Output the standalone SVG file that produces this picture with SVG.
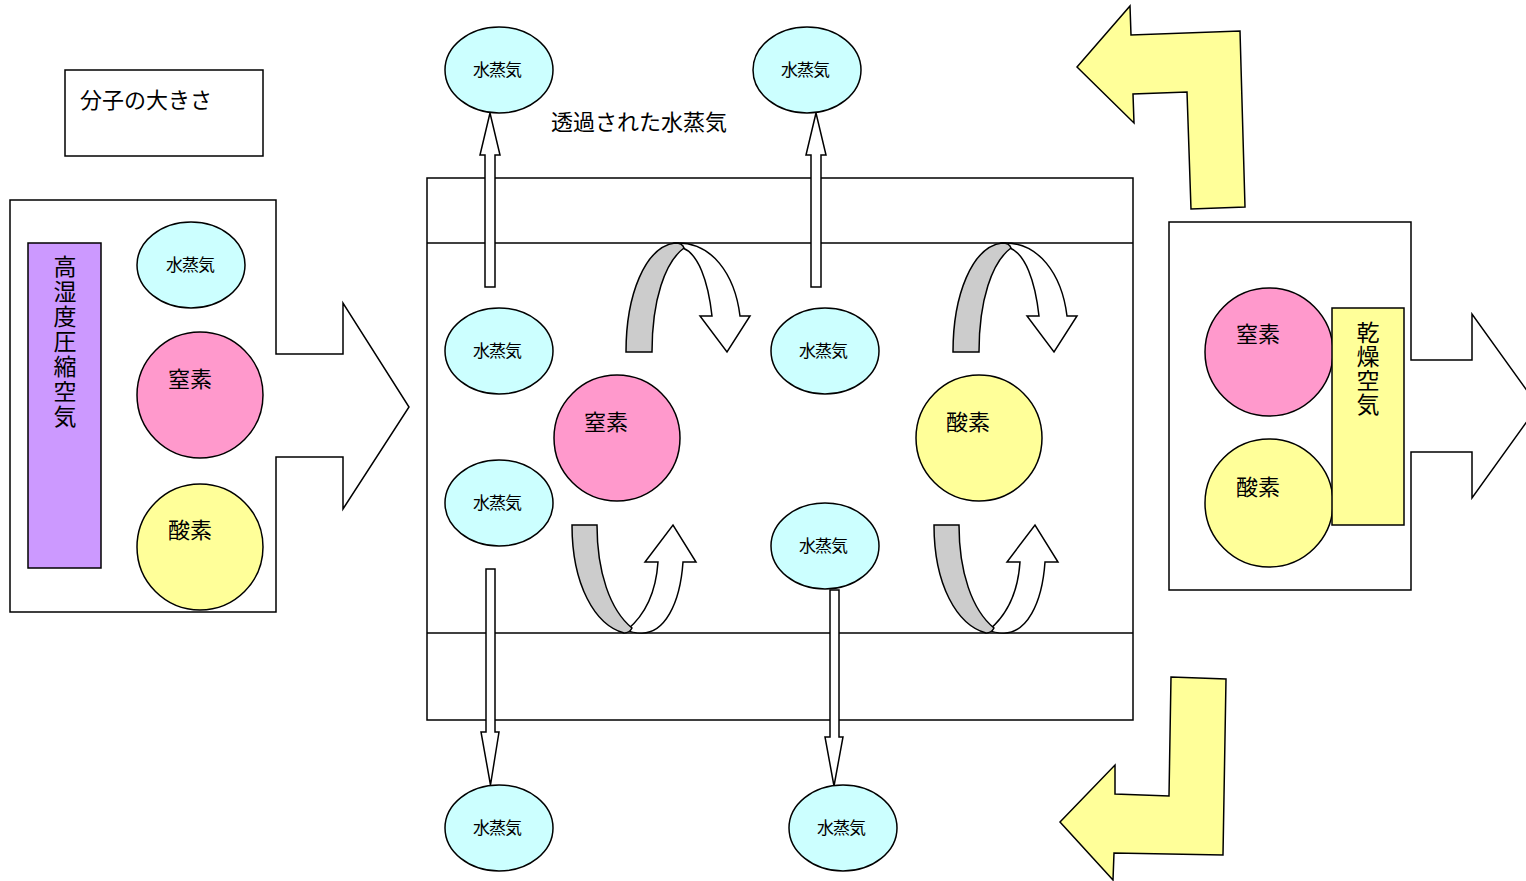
<svg xmlns="http://www.w3.org/2000/svg" width="1526" height="881" viewBox="0 0 1526 881">
<style>
.s{stroke:#000;stroke-width:1.5;stroke-linejoin:miter}
.w{fill:#fff}
.c{fill:#CCFFFF}
.p{fill:#FF99CC}
.y{fill:#FFFF99}
.g{fill:#CCCCCC}
.v{fill:#CC99FF}
text{font-family:"Noto Sans CJK JP","Noto Sans CJK SC",sans-serif;fill:#000}
.t17{font-size:17px;text-anchor:middle;letter-spacing:-1px}
.t22{font-size:22px}
.m{text-anchor:middle}
.vt{writing-mode:vertical-rl;font-size:23px;letter-spacing:2px}
</style>
<rect width="1526" height="881" fill="#fff"/>

<g id="legend">
<rect class="s w" x="65" y="70" width="198" height="86"/>
<text class="t22" x="80" y="108">分子の大きさ</text>
</g>

<g id="membrane">
<rect class="s w" x="427" y="178" width="706" height="542"/>
<line class="s" x1="427" y1="243" x2="1133" y2="243"/>
<line class="s" x1="427" y1="633" x2="1133" y2="633"/>
</g>

<g id="input">
<path class="s w" d="M10,200 L276,200 L276,354 L343,354 L343,303 L409,407 L343,509 L343,457 L276,457 L276,612 L10,612 Z"/>
<rect class="s v" x="28" y="243" width="73" height="325"/>
<text class="vt" x="65" y="255">高湿度圧縮空気</text>
<ellipse class="s c" cx="191" cy="265" rx="54" ry="43"/>
<text class="t17" x="190" y="271">水蒸気</text>
<circle class="s p" cx="200" cy="395" r="63"/>
<text class="t22 m" x="190" y="387">窒素</text>
<circle class="s y" cx="200" cy="547" r="63"/>
<text class="t22 m" x="190" y="538">酸素</text>
</g>

<g id="output">
<path class="s w" d="M1169,222 L1411,222 L1411,360 L1472,360 L1472,314 L1538,406 L1472,498 L1472,452 L1411,452 L1411,590 L1169,590 Z"/>
<circle class="s p" cx="1269" cy="352" r="64"/>
<text class="t22 m" x="1258" y="342">窒素</text>
<circle class="s y" cx="1269" cy="503" r="64"/>
<text class="t22 m" x="1258" y="495">酸素</text>
<rect class="s y" x="1332" y="308" width="72" height="217"/>
<text class="vt" x="1368" y="321" style="letter-spacing:1px">乾燥空気</text>
</g>

<g id="yellow-arrows">
<path class="s y" d="M1077,67 L1130,6 L1131,35 L1240,31 L1245,207 L1191,209 L1187,92 L1133,94 L1134,123 Z"/>
<path class="s y" d="M1171,677 L1226,679 L1223,855 L1114,853 L1113,880 L1060,822 L1115,765 L1115,794 L1169,796 Z"/>
</g>

<g id="connectors">
<polygon class="s w" points="485,287 495,287 495,155 500,155 490,113 480,155 485,155"/>
<polygon class="s w" points="811,287 821,287 821,155 826,155 816,113 806,155 811,155"/>
<polygon class="s w" points="486,569 495,569 495,732 499,732 490.5,785 481,732 486,732"/>
<polygon class="s w" points="830,590 839,590 839,737 843,737 834,786 825,737 830,737"/>
<g id="curl-top-1">
<path class="s w" d="M675,243 C712,241 735,275 740,316 L750,316 L727,352 L700,316 L712,316 C708,280 698,254 683,248 Z"/>
<path class="s g" d="M626,352 C626,295 645,247 675,243 C680,243 683,245 684,248 C665,262 652,300 652,352 Z"/>
</g>
<g id="curl-top-2" transform="translate(327,0)">
<path class="s w" d="M675,243 C712,241 735,275 740,316 L750,316 L727,352 L700,316 L712,316 C708,280 698,254 683,248 Z"/>
<path class="s g" d="M626,352 C626,295 645,247 675,243 C680,243 683,245 684,248 C665,262 652,300 652,352 Z"/>
</g>
<g id="curl-bottom-1">
<path class="s w" d="M627,630 C645,615 656,592 658,562 L645,562 L673,525 L696,562 L683,562 C680,605 664,633 642,633 C636,633 630,632 627,630 Z"/>
<path class="s g" d="M572,525 L597,525 C597,572 610,610 632,628 C630,632 628,633 624,633 C595,625 572,585 572,525 Z"/>
</g>
<g id="curl-bottom-2" transform="translate(362,0)">
<path class="s w" d="M627,630 C645,615 656,592 658,562 L645,562 L673,525 L696,562 L683,562 C680,605 664,633 642,633 C636,633 630,632 627,630 Z"/>
<path class="s g" d="M572,525 L597,525 C597,572 610,610 632,628 C630,632 628,633 624,633 C595,625 572,585 572,525 Z"/>
</g>
</g>

<g id="vapor-top-1"><ellipse class="s c" cx="499" cy="70" rx="54" ry="43"/><text class="t17" x="497" y="76">水蒸気</text></g>
<g id="vapor-top-2"><ellipse class="s c" cx="807" cy="70" rx="54" ry="43"/><text class="t17" x="805" y="76">水蒸気</text></g>
<text id="permeated" class="t22" x="551" y="130">透過された水蒸気</text>
<g id="vapor-1"><ellipse class="s c" cx="499" cy="351" rx="54" ry="43"/><text class="t17" x="497" y="357">水蒸気</text></g>
<g id="vapor-2"><ellipse class="s c" cx="825" cy="351" rx="54" ry="43"/><text class="t17" x="823" y="357">水蒸気</text></g>
<g id="vapor-3"><ellipse class="s c" cx="499" cy="503" rx="54" ry="43"/><text class="t17" x="497" y="509">水蒸気</text></g>
<g id="vapor-4"><ellipse class="s c" cx="825" cy="546" rx="54" ry="43"/><text class="t17" x="823" y="552">水蒸気</text></g>
<g id="nitrogen"><circle class="s p" cx="617" cy="438" r="63"/><text class="t22 m" x="606" y="430">窒素</text></g>
<g id="oxygen"><circle class="s y" cx="979" cy="438" r="63"/><text class="t22 m" x="968" y="430">酸素</text></g>
<g id="vapor-bottom-1"><ellipse class="s c" cx="499" cy="828" rx="54" ry="43"/><text class="t17" x="497" y="834">水蒸気</text></g>
<g id="vapor-bottom-2"><ellipse class="s c" cx="843" cy="828" rx="54" ry="43"/><text class="t17" x="841" y="834">水蒸気</text></g>
</svg>
